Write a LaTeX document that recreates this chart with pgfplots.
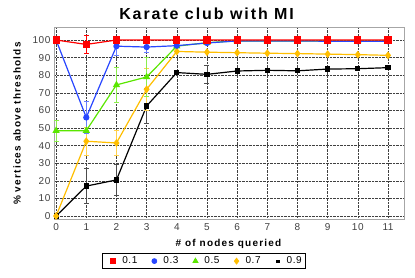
\documentclass[border=0pt]{standalone}
\usepackage{pgfplots}
\pgfplotsset{compat=1.18}
\usepackage{fontspec}
\setmainfont{Liberation Sans}
\newfontfamily\spaced{Liberation Sans}[LetterSpace=12]
\newfontfamily\tickf{Liberation Sans}[LetterSpace=6]
\definecolor{cred}{RGB}{255,0,0}
\definecolor{cblue}{RGB}{40,70,255}
\definecolor{cgreen}{RGB}{90,230,0}
\definecolor{corange}{RGB}{255,190,0}
\definecolor{cblack}{RGB}{0,0,0}
\begin{document}
\begin{tikzpicture}
\useasboundingbox (-54pt,-58pt) rectangle (361pt,219pt);
\begin{axis}[
  scale only axis, width=350pt, height=192pt,
  xmin=-0.07, xmax=11.53, ymin=-1.7, ymax=107.4,
  xtick={0,...,11}, ytick={0,10,...,100},
  grid=major, grid style={densely dotted, black!75, line width=0.6pt},
  axis line style={gray!70, line width=0.8pt},
  tick style={draw=none},
  /pgf/number format/assume math mode=true,
  tick label style={font=\tickf\fontsize{10}{11}\selectfont, text=black!75},
  xticklabel style={yshift=-1pt},
  xlabel={\textbf{\# of nodes queried}},
  ylabel={\textbf{\% vertices above thresholds}},
  label style={font=\spaced\fontsize{10}{11}\selectfont},
  xlabel style={yshift=-2pt},
  ylabel style={yshift=5pt},
  title={\textbf{Karate club with MI}},
  title style={font=\spaced\fontsize{16}{17}\selectfont, at={(rel axis cs:0.4386,1)}, yshift=-2pt},
  every axis plot/.append style={line width=1.2pt},
  error bars/error bar style={line width=0.7pt},
  error bars/error mark options={rotate=90, mark size=2.5pt, line width=0.7pt},
]
\addplot[cblack, mark=square*, mark size=2pt, mark options={fill=cblack}, error bars/.cd, y dir=both, y explicit, error bar style={black!70}]
 table[y error=e] {
x y e
0 0 0
1 17 10
2 20.5 9
3 62.5 10
4 81.5 0
5 80.5 5
6 82.4 0
7 82.8 0
8 82.5 0
9 83.5 0
10 83.7 0
11 84.3 0
};
\addplot[corange, mark=diamond*, mark size=3pt, error bars/.cd, y dir=both, y explicit, error bar style={corange!70}]
 table[y error=e] {
x y e
0 0 0
1 42.5 8
2 41.5 7
3 72 12
4 93.5 0
5 93.1 0
6 92.8 0
7 92.5 0
8 92.3 0
9 92 0
10 91.7 0
11 91.3 0
};
\addplot[cgreen, mark=triangle*, mark size=3pt, error bars/.cd, y dir=both, y explicit, error bar style={cgreen!70}]
 table[y error=e] {
x y e
0 48.5 6
1 48.5 0
2 74.5 10
3 79 11
4 96.5 0
5 98.5 0
6 99.5 0
7 99.5 0
8 99.5 0
9 99.5 0
10 99.5 0
11 99.5 0
};
\addplot[cblue, mark=*, mark size=2.5pt, error bars/.cd, y dir=both, y explicit, error bar style={cblue!70}]
 table[y error=e] {
x y e
0 100 0
1 56 9
2 96.5 5
3 96 3
4 96.8 0
5 98.3 0
6 99.5 0
7 99.5 0
8 99.5 0
9 99.3 0
10 99.3 0
11 99.3 0
};
\addplot[cred, mark=square*, mark size=3pt, error bars/.cd, y dir=both, y explicit, error bar style={cred}]
 table[y error=e] {
x y e
0 100 0
1 97.5 5
2 100 0
3 100 0
4 100 0
5 100 0
6 100 0
7 100 0
8 100 0
9 100 0
10 100 0
11 100 0
};
\end{axis}
\begin{axis}[
  scale only axis, width=350pt, height=192pt, hide axis,
  xmin=0, xmax=1, ymin=0, ymax=1,
  legend columns=5,
  legend style={at={(rel axis cs:0.4286,0)}, anchor=north, yshift=-34pt, draw=black, line width=0.7pt, font=\tickf\fontsize{10}{11}\selectfont, inner xsep=2pt, inner ysep=1.5pt, /tikz/every even column/.append style={column sep=6pt}},
  legend image code/.code={\path[draw=none] (0pt,0pt) -- (16pt,0pt); \draw plot coordinates {(9pt,0pt)};},
]
\addlegendimage{only marks, cred, mark=square*, mark size=2.5pt}
\addlegendentry{0.1}
\addlegendimage{only marks, cblue, mark=*, mark size=2.5pt}
\addlegendentry{0.3}
\addlegendimage{only marks, cgreen, mark=triangle*, mark size=3pt}
\addlegendentry{0.5}
\addlegendimage{only marks, corange, mark=diamond*, mark size=3pt}
\addlegendentry{0.7}
\addlegendimage{only marks, cblack, mark=square*, mark size=1.5pt, mark options={yscale=0.6}}
\addlegendentry{0.9}
\end{axis}
\end{tikzpicture}
\end{document}
